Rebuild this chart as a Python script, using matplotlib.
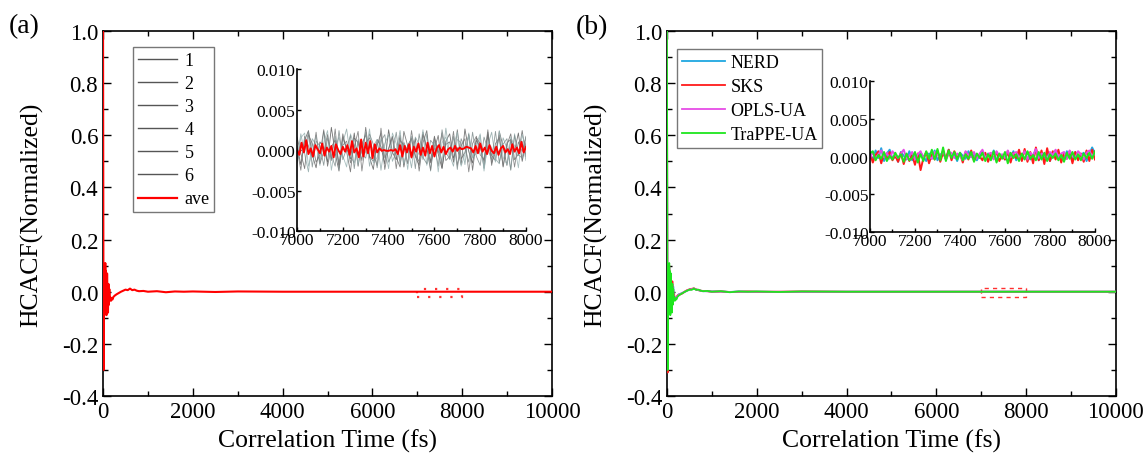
import numpy as np
import matplotlib
matplotlib.use("Agg")
import matplotlib.pyplot as plt
from matplotlib.patches import Rectangle
from matplotlib.ticker import MultipleLocator, FormatStrFormatter

plt.rcParams['font.family'] = ['Liberation Serif', 'DejaVu Serif']
plt.rcParams['axes.unicode_minus'] = False

# ---- main curves (time in fs) ----
t_main = [0, 4, 8, 12, 16, 20, 24, 28, 32, 36, 40, 45, 50, 55, 60, 65, 70, 75, 80, 85,
          90, 95, 100, 110, 120, 130, 140, 150, 160, 175, 190, 210, 230, 260, 300, 350,
          400, 450, 500, 550, 600, 650, 700, 750, 800, 900, 1000, 1200, 1400, 1600, 1800,
          2000, 2500, 3000, 4000, 5000, 6000, 7000, 8000, 9000, 10000]

ave_main = [1.0, 0.55, 0.1, -0.2, -0.3, -0.12, 0.02, -0.06, 0.09, -0.03,
            0.04, -0.07, 0.11, 0.0, 0.08, -0.05, 0.06, -0.09, 0.03, -0.04,
            0.07, -0.02, 0.02, -0.08, 0.03, -0.05, 0.01, -0.03, -0.02, -0.035,
            -0.025, -0.03, -0.02, -0.015, -0.01, -0.005, 0.0, 0.004, 0.008, 0.006,
            0.012, 0.006, 0.008, 0.004, 0.002, 0.003, 0.0, 0.002, -0.002, 0.001,
            0.0, 0.001, -0.001, 0.001, 0.0, 0.0, 0.0, 0.0, 0.0, 0.0, 0.0]

nerd_main = [1.0, 0.5, 0.08, -0.22, -0.28, -0.1, 0.03, -0.05, 0.08, -0.04,
             0.05, -0.06, 0.1, -0.01, 0.07, -0.06, 0.05, -0.08, 0.04, -0.03,
             0.06, -0.03, 0.03, -0.07, 0.02, -0.04, 0.02, -0.02, -0.03, -0.03,
             -0.02, -0.025, -0.02, -0.01, -0.008, -0.004, 0.0, 0.004, 0.008, 0.01,
             0.012, 0.008, 0.006, 0.004, 0.002, 0.002, 0.001, 0.001, -0.001, 0.001,
             0.0, 0.0, -0.001, 0.0, 0.0, 0.0, 0.0, 0.0, 0.0, 0.0, 0.0]

sks_main = [1.0, 0.58, 0.12, -0.18, -0.31, -0.13, 0.01, -0.07, 0.1, -0.02,
            0.03, -0.08, 0.1, 0.01, 0.07, -0.04, 0.07, -0.08, 0.02, -0.05,
            0.06, -0.01, 0.03, -0.07, 0.04, -0.04, 0.0, -0.03, -0.01, -0.03,
            -0.03, -0.025, -0.015, -0.012, -0.01, -0.006, 0.001, 0.006, 0.009, 0.011,
            0.013, 0.009, 0.006, 0.004, 0.003, 0.002, 0.0, 0.001, -0.001, 0.0,
            0.001, 0.0, 0.0, 0.001, 0.0, 0.0, 0.0, 0.0, 0.0, 0.0, 0.0]

opls_main = [1.0, 0.52, 0.09, -0.21, -0.29, -0.11, 0.02, -0.05, 0.08, -0.03,
             0.04, -0.06, 0.09, 0.0, 0.06, -0.05, 0.05, -0.07, 0.03, -0.03,
             0.05, -0.02, 0.02, -0.06, 0.03, -0.04, 0.01, -0.02, -0.02, -0.03,
             -0.02, -0.02, -0.018, -0.012, -0.008, -0.004, 0.0, 0.005, 0.008, 0.01,
             0.012, 0.009, 0.006, 0.004, 0.002, 0.002, 0.0, 0.001, -0.001, 0.0,
             0.0, 0.0, 0.0, 0.0, 0.0, 0.0, 0.0, 0.0, 0.0, 0.0, 0.0]

trappe_main = [1.0, 0.56, 0.11, -0.19, -0.3, -0.12, 0.03, -0.06, 0.1, -0.03,
               0.05, -0.07, 0.11, 0.01, 0.08, -0.05, 0.06, -0.09, 0.03, -0.04,
               0.07, -0.02, 0.03, -0.08, 0.03, -0.05, 0.01, -0.03, -0.02, -0.035,
               -0.025, -0.03, -0.02, -0.015, -0.01, -0.005, 0.0, 0.004, 0.008, 0.007,
               0.012, 0.007, 0.008, 0.004, 0.002, 0.003, 0.0, 0.002, -0.002, 0.001,
               0.0, 0.001, -0.001, 0.001, 0.0, 0.0, 0.0, 0.0, 0.0, 0.0, 0.0]

# ---- inset (a): 6 runs + average, units of 1e-3, 7000-8000 fs ----
run1 = [0.5, -1.8, 1.2, 2.4, -0.6, -2.2, 1.0, 0.3, -1.5, 2.8, -0.4, -2.6, 1.6, 0.2, -1.1, 2.1, -2.0, 0.7, 1.9, -0.9,
        -2.4, 1.3, 0.4, -1.7, 2.5, -0.3, -1.2, 1.8, -2.1, 0.6, 1.4, -0.8, -1.9, 2.2, 0.1, -1.4, 1.7, -0.5, -2.3, 1.1,
        2.0, -1.0, 0.3, -1.8, 2.6, -0.2, -1.6, 1.5, 0.8, -2.2, 1.9, -0.7, -1.3, 2.3, 0.4, -1.9, 1.2, -0.1, 2.1, -1.4, 0.9]
run2 = [-1.2, 2.0, -0.5, -2.7, 1.4, 0.6, -1.9, 2.3, 0.2, -1.1, 1.7, -2.4, 0.9, 2.6, -0.8, -1.6, 1.1, -0.3, 2.2, -2.0,
        0.5, 1.3, -2.5, 0.8, 1.9, -1.4, -0.2, 2.4, -1.7, 0.3, -2.2, 1.6, 0.7, -1.2, 2.0, -2.6, 1.0, 0.4, -1.5, 2.7,
        -0.6, -2.0, 1.3, 0.9, -1.8, 2.1, -0.9, -0.4, 1.8, -2.3, 0.6, 2.2, -1.1, -1.7, 1.5, 0.2, -2.4, 2.0, -0.7, 1.1, -1.3]
run3 = [1.6, -0.4, -2.3, 1.9, 0.8, -1.5, -0.6, 2.5, -2.0, 0.4, 1.2, -1.8, 2.0, -0.2, -2.7, 1.5, 0.9, -1.3, 2.8, -0.8,
        -1.4, 0.6, 2.1, -2.4, 0.2, 1.7, -0.9, -2.1, 2.3, 0.5, -1.0, 1.4, -2.6, 0.9, 2.4, -1.6, 0.1, 1.8, -2.2, 0.7,
        1.0, -1.5, 2.5, -1.1, -0.3, 1.9, -2.5, 1.2, 0.3, -1.4, 2.2, -1.9, 0.8, 1.5, -2.1, 0.6, 2.0, -1.2, -0.5, 2.4, -0.8]
run4 = [-0.8, 1.5, 2.1, -2.0, -0.3, 1.8, -1.4, 0.9, 2.4, -2.5, 0.3, 1.6, -0.7, -2.1, 2.0, 0.6, -1.8, 1.1, -0.4, 2.6,
        -1.6, -0.9, 1.4, 0.2, -2.3, 2.1, 0.8, -1.3, 1.0, -2.4, 1.7, 0.4, -0.6, 2.5, -1.9, -0.2, 1.3, -2.7, 0.9, 1.6,
        -1.2, 0.5, 2.2, -2.0, -0.5, 1.8, -1.0, 0.7, 2.0, -2.6, 1.1, 0.3, -1.5, 2.4, -0.9, -1.8, 1.6, 0.5, -2.2, 1.9, 0.2]
run5 = [0.2, -2.5, 1.7, 0.5, -0.9, 2.2, -1.7, -0.2, 1.9, -1.3, 2.6, -2.2, 0.6, 1.1, -1.6, 0.4, 2.3, -2.6, 0.9, 1.5,
        -0.5, -1.9, 2.7, -1.0, 0.1, 1.6, -2.3, 1.2, 0.6, -1.7, 2.4, -0.7, -1.4, 1.9, 0.3, -2.5, 1.5, -0.4, 2.1, -1.3,
        -0.8, 2.3, -1.9, 0.5, 1.4, -2.7, 0.8, 1.7, -0.6, -1.2, 2.5, -1.6, -0.3, 1.8, -2.0, 0.9, 1.3, -2.1, 1.0, -0.2, 1.7]
run6 = [-1.6, 0.9, -0.2, 2.3, -2.1, 1.1, 0.5, -1.9, 1.5, -0.6, -2.0, 2.4, -1.2, 0.2, 1.8, -2.3, 1.3, -0.5, -1.0, 2.0,
        0.7, -2.2, 1.1, 1.9, -1.5, -0.4, 2.2, -1.8, 0.9, -0.1, 1.5, -2.3, 2.0, -0.9, -1.7, 1.2, 0.6, -2.0, 2.5, -0.3,
        -1.1, 1.7, -2.4, 1.4, 0.2, -1.5, 2.2, -0.8, -1.9, 1.6, 0.1, -1.2, 2.3, -1.6, 0.7, 1.4, -2.5, 1.8, -0.6, -1.0, 1.6]
ave_ins = [0.0, -0.6, 0.9, -0.3, 1.2, -0.5, 0.2, -0.8, 0.6, 0.1, -0.4, 0.8, -0.7, 0.3, -0.2, 0.5, -0.9, 0.7, 0.0, -0.5,
           0.4, -0.2, 0.6, -0.6, 1.1, -0.3, 0.2, -0.9, 1.3, -0.8, 0.9, -0.4, 1.1, -1.0, 0.7, -0.3, 0.2, -0.1, 0.0, -0.1,
           -0.1, 0.0, -0.1, 0.1, -0.5, 0.6, -0.8, 0.5, -0.3, 0.7, -0.9, 0.4, -0.2, 0.8, -0.6, 0.3, -0.7, 0.9, -0.4, 0.5,
           -0.8, 0.2, 0.6, -0.3, 0.4, -0.5, 0.1, 0.3, -0.2, 0.5, -0.1, 0.3, 0.1, 0.2, 0.4, 0.3, 0.2, -0.3, 0.5, -0.4,
           0.8, -0.2, 0.3, -0.5, 0.6, -0.1, -0.4, 0.4, -0.6, 0.2, 0.5, -0.3, 0.1, -0.5, 0.7, -0.2, 0.3, -0.4, 1.0, -0.3, 0.4]

# ---- inset (b): force fields, units of 1e-3 ----
nerd_ins = [0.3, -0.5, 0.8, -0.2, 1.1, -0.6, 0.4, 0.9, -0.3, 0.2, -0.7, 0.6, 0.1, -0.4, 0.7, -0.5, 0.3, -0.2, 0.5, 0.0,
            -0.6, 0.4, -0.3, 0.8, -0.5, 0.2, 0.6, -0.4, 0.9, -0.2, 0.3, -0.6, 0.5, 0.1, -0.3, 0.7, -0.1, 0.4, -0.5, 0.2,
            0.6, -0.3, 0.4, -0.2, 0.8, -0.6, 0.3, 0.1, -0.4, 0.5, -0.2, 0.7, -0.5, 0.4, 0.0, -0.3, 0.6, -0.4, 0.2, 0.9,
            -0.5, 0.3, -0.1, 0.5, -0.6, 0.4, 0.8, -0.2, 0.3, -0.5, 0.7, 0.1, -0.4, 0.6, -0.3, 0.2, 0.5, -0.6, 0.3, 1.2, 0.4]
sks_ins = [0.5, -0.8, 0.2, 0.7, -0.9, 0.4, -0.3, 0.6, -0.5, 0.1, -0.7, 0.5, -1.0, 0.3, -0.6, 0.2, -1.1, 0.4, -1.8, -0.2,
           0.6, -0.9, 0.3, -0.4, 0.8, -0.7, 0.5, -0.3, 0.9, -0.5, 0.7, -0.2, 0.4, -0.8, 0.6, -0.4, 0.8, -0.6, 0.3, 0.0,
           -0.5, 0.5, -0.7, 0.4, -0.3, 0.6, -0.6, 0.2, -0.4, 0.7, -0.8, 0.5, -0.2, 0.9, -0.6, 1.0, -0.7, 0.6, -0.9, 1.2,
           -0.5, 0.8, -1.0, 1.1, -0.6, 0.7, -0.4, 0.9, -0.8, 0.5, -0.3, 0.7, -0.9, 0.6, -0.5, 0.4, -0.7, 0.8, -0.6, 0.9, -0.4]
opls_ins = [-0.2, 0.6, -0.4, 0.3, 0.8, -0.1, 0.5, -0.3, 0.7, 0.2, -0.2, 0.4, 0.9, -0.3, 0.1, 0.6, -0.4, 0.3, 0.7, -0.2,
            0.5, 0.0, -0.3, 0.6, 0.2, -0.1, 0.8, -0.4, 0.3, 0.5, -0.2, 0.4, 0.1, -0.5, 0.7, 0.2, -0.1, 0.6, -0.3, 0.4,
            0.9, -0.2, 0.3, 0.5, -0.4, 0.7, 0.1, 0.3, -0.2, 0.8, -0.1, 0.4, 0.6, -0.3, 0.2, 0.7, -0.4, 0.5, 0.1, 1.0,
            -0.2, 0.4, 0.3, -0.5, 0.6, 0.2, 0.9, -0.1, 0.4, 0.6, -0.3, 0.8, 0.1, -0.2, 0.7, 0.3, -0.4, 0.5, 0.8, 0.0, 0.6]
trappe_ins = [0.4, 0.7, -0.5, 0.2, -0.3, 0.6, -0.6, 0.1, -0.4, 0.5, -0.2, 0.3, -0.7, 0.4, -0.5, -0.2, 0.6, -0.8, 0.3, -0.6,
              0.7, -0.3, 0.9, -0.4, 1.0, -0.5, 1.2, -0.6, 0.8, -0.2, 0.6, -0.4, 0.5, -0.5, 0.3, -0.3, 0.6, -0.7, 0.4, -0.2,
              0.5, -0.6, 0.3, -0.5, 0.7, -0.8, 0.4, -0.3, 0.6, -0.9, 0.5, -0.2, 0.3, -0.6, 0.4, -0.4, 0.7, -0.3, 0.2, -0.5,
              0.6, -0.4, 0.5, -0.6, 0.3, -0.2, 0.4, -0.5, 0.2, -0.7, 0.5, -0.3, 0.6, -0.4, 0.3, -0.5, 0.4, -0.2, 0.5, -0.3, 0.7]

run_labels = ['1', '2', '3', '4', '5', '6']
run_colors = ['#5a5a5a', '#8fa8a8', '#6a6a6a', '#9ab4b4', '#777777', '#7f8c8c']
ff_labels = ['NERD', 'SKS', 'OPLS-UA', 'TraPPE-UA']
ff_colors = ['#1fa7e0', '#ff1a1a', '#e64ce6', '#1ee61e']

FS_TICK = 16.5
FS_LABEL = 18.5
FS_INSET = 12.5


def style_main(ax):
    ax.set_xlim(0, 10000)
    ax.set_ylim(-0.4, 1.0)
    ax.xaxis.set_major_locator(MultipleLocator(2000))
    ax.xaxis.set_minor_locator(MultipleLocator(1000))
    ax.yaxis.set_major_locator(MultipleLocator(0.2))
    ax.yaxis.set_minor_locator(MultipleLocator(0.1))
    ax.yaxis.set_major_formatter(FormatStrFormatter('%.1f'))
    ax.tick_params(which='both', direction='in', top=True, right=True, labelsize=FS_TICK, width=1.0)
    ax.tick_params(which='major', length=6)
    ax.tick_params(which='minor', length=3.5)
    for s in ax.spines.values():
        s.set_linewidth(1.2)
    ax.set_xlabel('Correlation Time (fs)', fontsize=FS_LABEL)
    ax.set_ylabel('HCACF(Normalized)', fontsize=FS_LABEL)
    ax.xaxis.set_label_coords(0.5, -0.088)
    ax.yaxis.set_label_coords(-0.133, 0.5)


def style_inset(ax):
    ax.set_xlim(7000, 8000)
    ax.set_ylim(-0.010, 0.010)
    ax.set_facecolor('none')
    ax.spines['top'].set_visible(False)
    ax.spines['right'].set_visible(False)
    for s in ['left', 'bottom']:
        ax.spines[s].set_linewidth(1.2)
    ax.xaxis.set_major_locator(MultipleLocator(200))
    ax.xaxis.set_minor_locator(MultipleLocator(100))
    ax.yaxis.set_major_locator(MultipleLocator(0.005))
    ax.yaxis.set_major_formatter(FormatStrFormatter('%.3f'))
    ax.tick_params(which='both', direction='in', labelsize=FS_INSET, width=1.0, pad=1)
    ax.tick_params(which='major', length=3)
    ax.tick_params(which='minor', length=2)


fig = plt.figure(figsize=(11.45, 4.64), dpi=100)

# ---------------- panel (a) ----------------
ax1 = fig.add_axes([0.0900, 0.1444, 0.3921, 0.7866])
ax1.plot(t_main, ave_main, color='#ff0000', lw=1.5, zorder=3)
ax1.add_patch(Rectangle((7000, -0.022), 1000, 0.034, fill=False, edgecolor='#ff3030',
                        linestyle=(0, (1, 4)), lw=1.6))
style_main(ax1)

ins1 = fig.add_axes([0.2594, 0.5000, 0.2000, 0.3491])
for run, c in zip([run1, run2, run3, run4, run5, run6], run_colors):
    tt = np.linspace(7000, 8000, len(run))
    ins1.plot(tt, np.array(run) * 1e-3, color=c, lw=0.6, alpha=0.85)
tt = np.linspace(7000, 8000, len(ave_ins))
ins1.plot(tt, np.array(ave_ins) * 1e-3, color='#ff0000', lw=1.4)
style_inset(ins1)

leg_handles = [plt.Line2D([], [], color='#555555', lw=1.0) for _ in run_labels]
leg_handles.append(plt.Line2D([], [], color='#ff0000', lw=1.6))
fig.legend(leg_handles, run_labels + ['ave'], loc='upper left',
           bbox_to_anchor=(133 / 1145, 1 - 48 / 464), fontsize=13, frameon=True,
           fancybox=False, edgecolor='#555555', handlelength=2.2, handletextpad=0.4,
           labelspacing=0.34, borderpad=0.25, borderaxespad=0, handleheight=0.5)

# ---------------- panel (b) ----------------
ax2 = fig.add_axes([0.5825, 0.1444, 0.3921, 0.7866])
for data, c in zip([nerd_main, sks_main, opls_main, trappe_main], ff_colors):
    ax2.plot(t_main, data, color=c, lw=1.3, zorder=3)
ax2.add_patch(Rectangle((7000, -0.02), 1000, 0.034, fill=False, edgecolor='#ff3030',
                        linestyle=(0, (3, 3)), lw=1.0))
style_main(ax2)

ins2 = fig.add_axes([0.7598, 0.4978, 0.1965, 0.3255])
for data, c in zip([nerd_ins, sks_ins, opls_ins, trappe_ins], ff_colors):
    tt = np.linspace(7000, 8000, len(data))
    ins2.plot(tt, np.array(data) * 1e-3, color=c, lw=1.4)
style_inset(ins2)

ff_handles = [plt.Line2D([], [], color=c, lw=1.3) for c in ff_colors]
fig.legend(ff_handles, ff_labels, loc='upper left',
           bbox_to_anchor=(677 / 1145, 1 - 50 / 464), fontsize=13, frameon=True,
           fancybox=False, edgecolor='#555555', handlelength=2.4, handletextpad=0.3,
           labelspacing=0.4, borderpad=0.25, borderaxespad=0, handleheight=0.5)

fig.text(0.008, 0.942, '(a)', fontsize=20, va='center')
fig.text(0.503, 0.940, '(b)', fontsize=20, va='center')

fig.savefig('out.png', dpi=100)
